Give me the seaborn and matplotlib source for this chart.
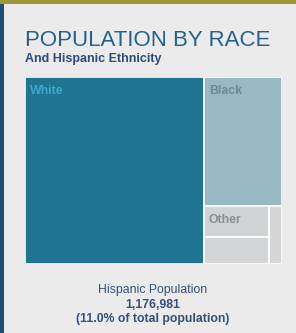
import matplotlib
matplotlib.use("Agg")
import matplotlib.pyplot as plt
from matplotlib.patches import Rectangle
import seaborn as sns

# data
races = ["White", "Black", "Other", "Asian", "Two or More"]
shares = [69.6, 20.9, 4.2, 3.7, 1.6]
show_label = [True, True, True, False, False]
box_colors = ["#1f7591", "#98b9c4", "#d0d3d4", "#d3d5d6", "#d6d6d6"]
label_colors = ["#3ea6cf", "#6d8793", "#8a8f95", "#8a8f95", "#8a8f95"]

hisp_pop = 1176981
hisp_pct = 11.0


def squarify(vals, x, y, w, h):
    """rows along the short side, grow a row while its aspect ratio improves"""
    rects = []
    vals = list(vals)
    while vals:
        short = min(w, h)

        def ratio(row):
            thick = sum(row) / short
            return max(thick / short, short / thick)

        row = [vals[0]]
        i = 1
        while i < len(vals) and ratio(row + [vals[i]]) < ratio(row):
            row.append(vals[i])
            i += 1
        thick = sum(row) / short
        pos = 0
        for v in row:
            length = v / thick
            if w >= h:
                rects.append((x, y + pos, thick, length))
            else:
                rects.append((x + pos, y, length, thick))
            pos += length
        if w >= h:
            x += thick
            w -= thick
        else:
            y += thick
            h -= thick
        vals = vals[i:]
    return rects


sns.set_theme(style="white")
plt.rcParams["font.family"] = ["Liberation Sans", "DejaVu Sans"]

W, H = 296, 333
fig = plt.figure(figsize=(W / 100, H / 100), dpi=100)
fig.patch.set_facecolor("#ebebeb")

# frame decorations
fig.add_artist(Rectangle((0, 1 - 4 / H), 1, 4 / H, transform=fig.transFigure,
                         color="#9b9a34", lw=0))
fig.add_artist(Rectangle((0, 0), 3.5 / W, 1 - 4 / H, transform=fig.transFigure,
                         color="#1b5077", lw=0))

fig.text(25 / W, 1 - 46 / H, "POPULATION BY RACE", fontsize=16,
         color="#23618e", va="baseline", ha="left")
fig.text(25 / W, 1 - 62 / H, "And Hispanic Ethnicity", fontsize=9,
         fontweight="bold", color="#2d4b7c", va="baseline", ha="left")

# treemap
tw, th = 257, 187
ax = fig.add_axes([25 / W, 1 - 264 / H, tw / W, th / H])
total = sum(shares)
areas = [s / total * tw * th for s in shares]
rects = squarify(areas, 0, 0, tw, th)

for (x, y, w, h), name, col, lc, lab in zip(rects, races, box_colors,
                                             label_colors, show_label):
    ax.bar(x, h, width=w, bottom=y, align="edge", color=col,
           edgecolor="white", linewidth=1.2)
    if lab:
        ax.text(x + 5, y + 8, name, fontsize=8.8, fontweight="bold",
                color=lc, ha="left", va="top")

ax.set_xlim(0, tw)
ax.set_ylim(th, 0)
ax.axis("off")

# hispanic note
cx = 152.5 / W
note_color = "#33507a"
fig.text(cx, 1 - 293 / H, "Hispanic Population", fontsize=8.8,
         color=note_color, ha="center", va="baseline")
fig.text(cx, 1 - 308 / H, f"{hisp_pop:,}", fontsize=8.8, fontweight="bold",
         color=note_color, ha="center", va="baseline")
fig.text(cx, 1 - 322 / H, f"({hisp_pct:.1f}% of total population)",
         fontsize=8.8, fontweight="bold", color=note_color, ha="center",
         va="baseline")

fig.savefig("out.png", dpi=100, facecolor=fig.get_facecolor())
